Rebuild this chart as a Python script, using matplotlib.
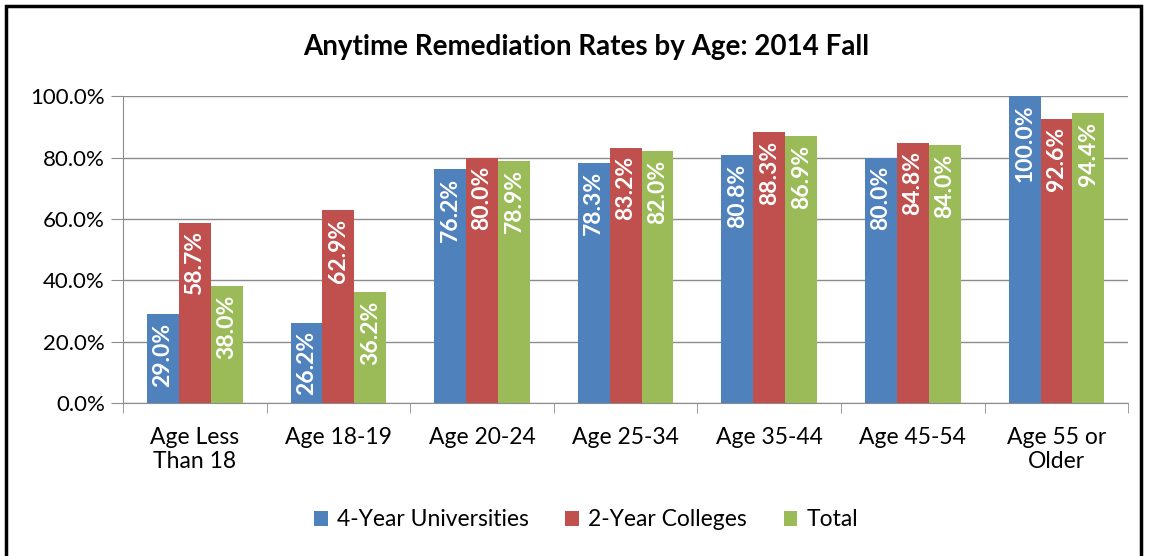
import numpy as np
import matplotlib.pyplot as plt
from matplotlib.patches import Rectangle

categories = ['Age Less\nThan 18', 'Age 18-19', 'Age 20-24', 'Age 25-34',
              'Age 35-44', 'Age 45-54', 'Age 55 or\nOlder']
univ = [29.0, 26.2, 76.2, 78.3, 80.8, 80.0, 100.0]
colleges = [58.7, 62.9, 80.0, 83.2, 88.3, 84.8, 92.6]
total = [38.0, 36.2, 78.9, 82.0, 86.9, 84.0, 94.4]
series_names = ['4-Year Universities', '2-Year Colleges', 'Total']
colors = ['#4F81BD', '#C0504D', '#9BBB59']

plt.rcParams['font.family'] = ['Lato', 'DejaVu Sans']

fig = plt.figure(figsize=(11.49, 5.56), dpi=100)
ax = fig.add_axes([0.107, 0.275, 0.875, 0.552])

x = np.arange(len(categories))
w = 0.222
for i, (vals, col, name) in enumerate(zip([univ, colleges, total], colors, series_names)):
    bars = ax.bar(x + (i - 1) * w, vals, w, color=col, label=name, zorder=3)
    for b, v in zip(bars, vals):
        ax.annotate('%.1f%%' % v, (b.get_x() + b.get_width() / 2, v),
                    xytext=(0, -6), textcoords='offset points',
                    rotation=90, ha='center', va='top', color='white',
                    fontsize=16.5, fontweight='bold', zorder=4)

ax.set_xlim(-0.5, len(categories) - 0.5)
ax.set_ylim(0, 100)
ax.set_yticks(np.arange(0, 101, 20))
ax.set_yticklabels(['%.1f%%' % t for t in np.arange(0, 101, 20)], fontsize=16)
ax.yaxis.grid(True, color='#8C8C8C', linewidth=1, zorder=0)
ax.set_xticks(x)
ax.set_xticklabels(categories, fontsize=16.5, linespacing=1.2)
ax.tick_params(axis='x', length=0, pad=17)
ax.tick_params(axis='y', length=9, color='#8C8C8C', pad=4)
ax.set_xticks(np.arange(-0.5, len(categories)), minor=True)
ax.tick_params(axis='x', which='minor', length=7, color='#8C8C8C')
for s in ['top', 'right']:
    ax.spines[s].set_visible(False)
for s in ['left', 'bottom']:
    ax.spines[s].set_color('#8C8C8C')

fig.text(0.51, 0.915, 'Anytime Remediation Rates by Age: 2014 Fall', fontsize=20,
         fontweight='bold', ha='center', va='center')

fig.legend(loc='center', bbox_to_anchor=(0.51, 0.065), ncol=3, frameon=False,
           fontsize=16.5, handlelength=0.6, handleheight=0.6,
           columnspacing=1.6, handletextpad=0.4)

fig.patches.append(Rectangle((0.005, -0.02), 0.988, 1.01, transform=fig.transFigure,
                             fill=False, edgecolor='black', linewidth=2.5))

fig.savefig('out.png', dpi=100)
